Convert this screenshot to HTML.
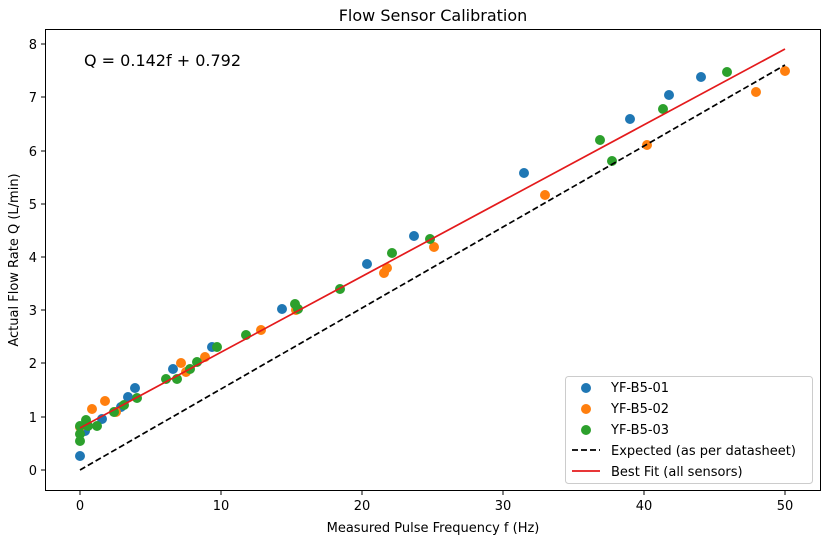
<!DOCTYPE html><html><head><style>body{margin:0;background:#fff}svg{font-family:"DejaVu Sans","Liberation Sans",sans-serif}</style></head><body>
<svg width="829" height="542" xmlns="http://www.w3.org/2000/svg">
<rect width="829" height="542" fill="#fff"/>
<text x="433" y="21" font-size="16" text-anchor="middle">Flow Sensor Calibration</text>
<rect x="45.5" y="29.5" width="775" height="461" fill="none" stroke="#000" stroke-width="1"/>
<g font-size="13" text-anchor="middle">
<g stroke="#000"><line x1="80" y1="491" x2="80" y2="495"/><line x1="221" y1="491" x2="221" y2="495"/><line x1="362" y1="491" x2="362" y2="495"/><line x1="503" y1="491" x2="503" y2="495"/><line x1="644" y1="491" x2="644" y2="495"/><line x1="785" y1="491" x2="785" y2="495"/></g>
<text x="80" y="510">0</text><text x="221" y="510">10</text><text x="362" y="510">20</text><text x="503" y="510">30</text><text x="644" y="510">40</text><text x="785" y="510">50</text>
<text x="433" y="532">Measured Pulse Frequency f (Hz)</text>
</g>
<g font-size="13" text-anchor="end">
<g stroke="#000"><line x1="41" y1="470" x2="45" y2="470"/><line x1="41" y1="417" x2="45" y2="417"/><line x1="41" y1="363" x2="45" y2="363"/><line x1="41" y1="310" x2="45" y2="310"/><line x1="41" y1="257" x2="45" y2="257"/><line x1="41" y1="204" x2="45" y2="204"/><line x1="41" y1="151" x2="45" y2="151"/><line x1="41" y1="97" x2="45" y2="97"/><line x1="41" y1="44" x2="45" y2="44"/></g>
<text x="37" y="475">0</text><text x="37" y="422">1</text><text x="37" y="368">2</text><text x="37" y="315">3</text><text x="37" y="262">4</text><text x="37" y="209">5</text><text x="37" y="156">6</text><text x="37" y="102">7</text><text x="37" y="49">8</text>
</g>
<text transform="translate(18,260) rotate(-90)" font-size="13" text-anchor="middle">Actual Flow Rate Q (L/min)</text>
<text x="84" y="66" font-size="16">Q = 0.142f + 0.792</text>
<g fill="#1f77b4">
<circle cx="80" cy="456" r="5"/><circle cx="85" cy="431" r="5"/><circle cx="102" cy="419" r="5"/><circle cx="121" cy="407" r="5"/><circle cx="128" cy="397" r="5"/><circle cx="135" cy="388" r="5"/><circle cx="173" cy="369" r="5"/><circle cx="212" cy="347" r="5"/><circle cx="282" cy="309" r="5"/><circle cx="367" cy="264" r="5"/><circle cx="414" cy="236" r="5"/><circle cx="524" cy="173" r="5"/><circle cx="630" cy="119" r="5"/><circle cx="669" cy="95" r="5"/><circle cx="701" cy="77" r="5"/>
</g>
<g fill="#ff7f0e">
<circle cx="80" cy="427" r="5"/><circle cx="92" cy="409" r="5"/><circle cx="105" cy="401" r="5"/><circle cx="116" cy="412" r="5"/><circle cx="181" cy="363" r="5"/><circle cx="186" cy="372" r="5"/><circle cx="205" cy="357" r="5"/><circle cx="261" cy="330" r="5"/><circle cx="296" cy="310" r="5"/><circle cx="384" cy="273" r="5"/><circle cx="387" cy="268" r="5"/><circle cx="434" cy="247" r="5"/><circle cx="545" cy="195" r="5"/><circle cx="647" cy="145" r="5"/><circle cx="756" cy="92" r="5"/><circle cx="785" cy="71" r="5"/>
</g>
<g fill="#2ca02c">
<circle cx="80" cy="441" r="5"/><circle cx="80" cy="434" r="5"/><circle cx="80" cy="426" r="5"/><circle cx="86" cy="420" r="5"/><circle cx="88" cy="426" r="5"/><circle cx="97" cy="426" r="5"/><circle cx="114" cy="412" r="5"/><circle cx="124" cy="405" r="5"/><circle cx="137" cy="398" r="5"/><circle cx="166" cy="379" r="5"/><circle cx="177" cy="379" r="5"/><circle cx="190" cy="369" r="5"/><circle cx="197" cy="362" r="5"/><circle cx="217" cy="347" r="5"/><circle cx="246" cy="335" r="5"/><circle cx="295" cy="304" r="5"/><circle cx="298" cy="309" r="5"/><circle cx="340" cy="289" r="5"/><circle cx="392" cy="253" r="5"/><circle cx="430" cy="239" r="5"/><circle cx="600" cy="140" r="5"/><circle cx="612" cy="161" r="5"/><circle cx="663" cy="109" r="5"/><circle cx="727" cy="72" r="5"/>
</g>
<line x1="80" y1="470" x2="785" y2="65" stroke="#000" stroke-width="1.7" stroke-dasharray="6,3"/>
<line x1="80" y1="428" x2="785" y2="49" stroke="#e41a1c" stroke-width="1.7"/>
<rect x="565.5" y="376.5" width="247" height="107" rx="3" fill="#fff" fill-opacity="0.8" stroke="#ccc"/>
<g font-size="13">
<circle cx="586" cy="388" r="5" fill="#1f77b4"/><text x="611" y="392">YF-B5-01</text>
<circle cx="586" cy="409" r="5" fill="#ff7f0e"/><text x="611" y="413">YF-B5-02</text>
<circle cx="586" cy="430" r="5" fill="#2ca02c"/><text x="611" y="434">YF-B5-03</text>
<line x1="572" y1="450" x2="600" y2="450" stroke="#000" stroke-width="1.7" stroke-dasharray="6,3"/><text x="611" y="455">Expected (as per datasheet)</text>
<line x1="572" y1="471" x2="600" y2="471" stroke="#e41a1c" stroke-width="1.7"/><text x="611" y="476">Best Fit (all sensors)</text>
</g>
</svg></body></html>
